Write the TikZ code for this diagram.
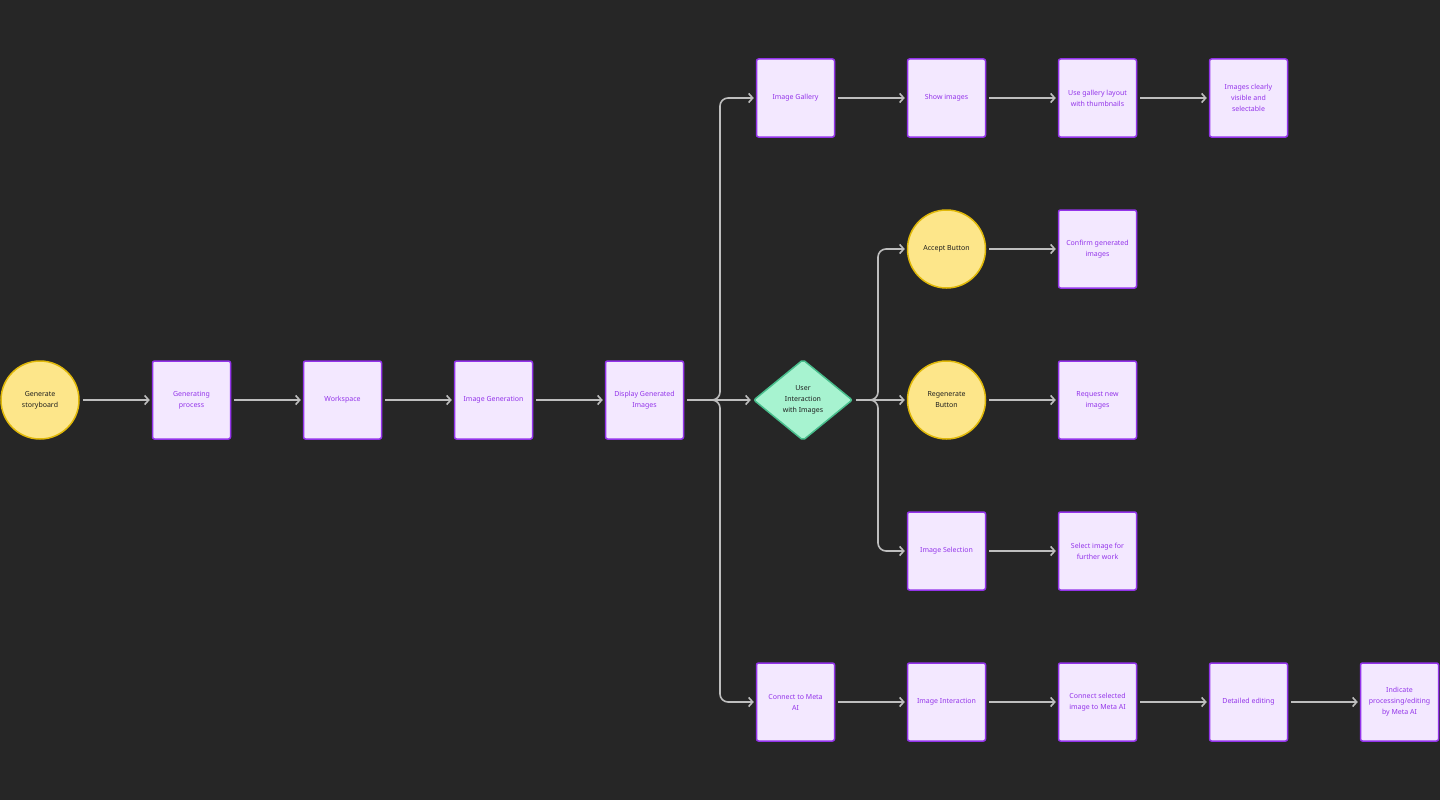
\documentclass[tikz,border=0pt]{standalone}
\usepackage{fontspec}
\setmainfont{Noto Sans}
\usetikzlibrary{shapes.geometric,arrows.meta}
\definecolor{bg}{RGB}{38, 38, 38}
\definecolor{boxfill}{RGB}{243, 232, 255}
\definecolor{boxline}{RGB}{147, 51, 234}
\definecolor{btnfill}{RGB}{253, 230, 138}
\definecolor{btnline}{RGB}{224, 184, 8}
\definecolor{askfill}{RGB}{167, 243, 208}
\definecolor{askline}{RGB}{72, 190, 140}
\definecolor{link}{RGB}{190, 190, 190}
\definecolor{ink}{RGB}{30, 30, 30}

\begin{document}
\begin{tikzpicture}[x=1pt, y=-1pt,
    txt/.style={font=\fontsize{7}{11}\selectfont, align=center},
    box/.style={txt, rectangle, draw=boxline, fill=boxfill, text=boxline, line width=1.5pt, rounded corners=2pt, minimum width=78pt, minimum height=78pt, inner sep=0pt},
    button/.style={txt, circle, draw=btnline, fill=btnfill, text=ink, line width=1.5pt, minimum size=78pt, inner sep=0pt},
    choice/.style={txt, diamond, draw=askline, fill=askfill, text=ink, line width=1.5pt, minimum width=99pt, minimum height=81pt, inner sep=0pt, rounded corners=2pt},
    flow/.style={draw=link, line width=1.6pt, -{Straight Barb[length=4pt,width=9pt]}, shorten >=2pt, shorten <=3pt},
    branch/.style={flow, rounded corners=8pt}]
      \fill[bg] (0, 0) rectangle (1440, 800);
      \useasboundingbox (0, 0) rectangle (1440, 800);

      % main line
      \node[button] (story) at (40, 400) {Generate\\storyboard};
      \node[box] (proc) at (191.5, 400) {Generating\\process};
      \node[box] (work) at (342.5, 400) {Workspace};
      \node[box] (imggen) at (493.5, 400) {Image Generation};
      \node[box] (display) at (644.5, 400) {Display Generated\\Images};
      \node[choice] (user) at (803, 400) {User\\Interaction\\with Images};

      % gallery row
      \node[box] (gallery) at (795.5, 98) {Image Gallery};
      \node[box] (show) at (946.5, 98) {Show images};
      \node[box] (layout) at (1097.5, 98) {Use gallery layout\\with thumbnails};
      \node[box] (visible) at (1248.5, 98) {Images clearly\\visible and\\selectable};

      % user choices
      \node[button] (accept) at (946.5, 249) {Accept Button};
      \node[box] (confirm) at (1097.5, 249) {Confirm generated\\images};
      \node[button] (regen) at (946.5, 400) {Regenerate\\Button};
      \node[box] (request) at (1097.5, 400) {Request new\\images};
      \node[box] (select) at (946.5, 551) {Image Selection};
      \node[box] (further) at (1097.5, 551) {Select image for\\further work};

      % meta ai row
      \node[box] (meta) at (795.5, 702) {Connect to Meta\\AI};
      \node[box] (interact) at (946.5, 702) {Image Interaction};
      \node[box] (connsel) at (1097.5, 702) {Connect selected\\image to Meta AI};
      \node[box] (detail) at (1248.5, 702) {Detailed editing};
      \node[box] (indicate) at (1399.5, 702) {Indicate\\processing/editing\\by Meta AI};

      \coordinate (fork) at (720, 400);
      \coordinate (split) at (878, 400);

      \draw[flow] (story.east)--(proc.west);
      \draw[flow] (proc.east)--(work.west);
      \draw[flow] (work.east)--(imggen.west);
      \draw[flow] (imggen.east)--(display.west);
      \draw[branch] (display.east)--(fork) |- (gallery.west);
      \draw[flow] (display.east)--(user.west);
      \draw[branch] (display.east)--(fork) |- (meta.west);

      \draw[flow] (gallery.east)--(show.west);
      \draw[flow] (show.east)--(layout.west);
      \draw[flow] (layout.east)--(visible.west);

      \draw[branch] (user.east)--(split) |- (accept.west);
      \draw[flow] (user.east)--(regen.west);
      \draw[branch] (user.east)--(split) |- (select.west);
      \draw[flow] (accept.east)--(confirm.west);
      \draw[flow] (regen.east)--(request.west);
      \draw[flow] (select.east)--(further.west);

      \draw[flow] (meta.east)--(interact.west);
      \draw[flow] (interact.east)--(connsel.west);
      \draw[flow] (connsel.east)--(detail.west);
      \draw[flow] (detail.east)--(indicate.west);
    \end{tikzpicture}
\end{document}
